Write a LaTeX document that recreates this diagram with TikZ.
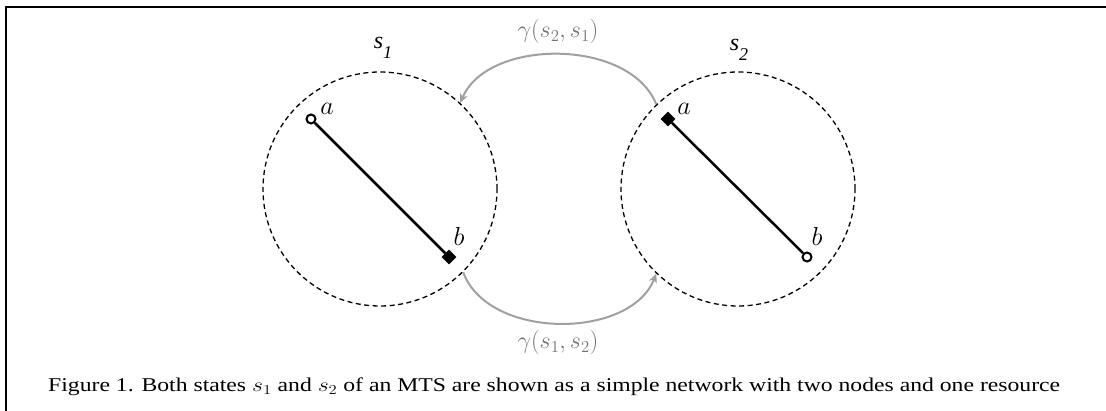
\RequirePackage{fix-cm}
\documentclass[tikz,border=0pt]{standalone}
\usepackage[no-math]{fontspec}
\usepackage{graphicx}
\newfontfamily\tfont{Liberation Serif}
\usetikzlibrary{arrows.meta}
\definecolor{arrgray}{RGB}{160,160,160}
\definecolor{lblgray}{RGB}{115,115,115}
\begin{document}
\begin{tikzpicture}[x=1pt,y=-1pt,
  statecirc/.style={circle, draw, dash pattern=on 5pt off 3.5pt, line width=1.3pt, minimum size=234pt, inner sep=0pt},
  opennode/.style={circle, draw, line width=2pt, fill=white, minimum size=9pt, inner sep=0pt},
  fullnode/.style={rectangle, fill=black, minimum size=10.5pt, inner sep=0pt, rotate=45},
  reslink/.style={line width=2.5pt},
  trans/.style={draw=arrgray, line width=2pt, -{Stealth[length=9pt,width=8pt,inset=2.5pt]}},
  lbl/.style={font=\fontsize{26}{26}\selectfont, inner sep=0pt},
  glbl/.style={font=\fontsize{24}{24}\selectfont, text=lblgray, inner sep=0pt},
  slbl/.style={font=\tfont\itshape\fontsize{24}{24}\selectfont, inner sep=0pt}]
\useasboundingbox (0,0) rectangle (1106,411);
\draw[line width=2pt] (6,411) -- (6,7) -- (1106,7);
% states
\node[statecirc] (c1) at (380,189) {};
\node[statecirc] (c2) at (738,189) {};
\node[slbl] (s1) at (383,48) {s\raisebox{-0.42em}{\fontsize{18}{18}\selectfont 1}};
\node[slbl] (s2) at (739,50) {s\raisebox{-0.42em}{\fontsize{18}{18}\selectfont 2}};
% state 1 network
\node[fullnode] (b1) at (449,257) {};
\node[opennode] (a1) at (311,119) {};
\draw[reslink] (a1) -- (b1);
\node[lbl] (la1) at (327,109) {$a$};
\node[lbl] (lb1) at (459,236) {$b$};
% state 2 network
\node[opennode] (b2) at (807,257) {};
\node[fullnode] (a2) at (668,119) {};
\draw[reslink] (a2) -- (b2);
\node[lbl] (la2) at (684,109) {$a$};
\node[lbl] (lb2) at (817,236) {$b$};
% transitions
\draw[trans] (c2.134) .. controls (630,38) and (488,38) .. (c1.47);
\draw[trans] (c1.-45) .. controls (488,340) and (630,340) .. (c2.-134);
\node[glbl] (g21) at (558,32) {$\gamma(s_2,s_1)$};
\node[glbl] (g12) at (558,343) {$\gamma(s_1,s_2)$};
% caption
\node[anchor=base west, inner sep=0pt] (cap) at (48,392) {\resizebox{1012pt}{\height}{\tfont\fontsize{19.5}{20}\selectfont Figure 1. Both states $s_1$ and $s_2$ of an MTS are shown as a simple network with two nodes and one resource}};
\end{tikzpicture}
\end{document}
